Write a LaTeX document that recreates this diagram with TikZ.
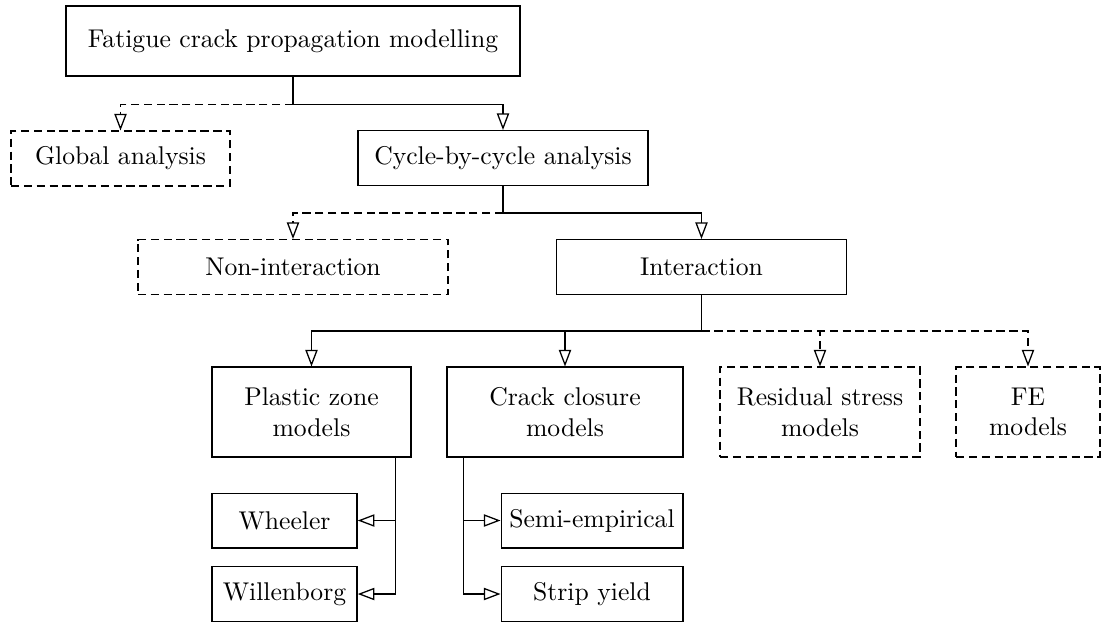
\documentclass[tikz,border=0pt]{standalone}
\usetikzlibrary{arrows.meta,positioning,calc}

\begin{document}
\begin{tikzpicture}[x=0.0137cm, y=-0.0137cm, line width=0.5pt,
		box/.style={draw, align=center, inner sep=0pt, minimum height=0.75cm},
		optbox/.style={box, dash pattern=on 3.2pt off 1.8pt},
		tallbox/.style={minimum height=1.23cm},
		link/.style={-{Triangle[open, length=6.5pt, width=4.8pt]}},
		optlink/.style={link, dash pattern=on 3.2pt off 1.8pt}]
		\useasboundingbox (0,0) rectangle (1105,623);
		% levels
		\node[box, minimum width=6.22cm, minimum height=0.96cm] (fcp) at (293,41) {Fatigue crack propagation modelling};
		\node[optbox, minimum width=3.0cm] (global) at (120.5,158.5) {Global analysis};
		\node[box, minimum width=3.97cm] (cycle) at (503,158) {Cycle-by-cycle analysis};
		\node[optbox, minimum width=4.25cm] (nonint) at (293,267) {Non-interaction};
		\node[box, minimum width=3.97cm] (inter) at (701.5,267) {Interaction};
		\node[box, tallbox, minimum width=2.73cm] (plastic) at (311.5,412) {Plastic zone\\models};
		\node[box, tallbox, minimum width=3.23cm] (closure) at (565,412) {Crack closure\\models};
		\node[optbox, tallbox, minimum width=2.74cm] (residual) at (820,412) {Residual stress\\models};
		\node[optbox, tallbox, minimum width=1.97cm] (fe) at (1028,412) {FE\\models};
		\node[box, minimum width=1.99cm] (wheeler) at (284.5,520.5) {Wheeler};
		\node[box, minimum width=1.99cm] (willen) at (284.5,594) {Willenborg};
		\node[box, minimum width=2.49cm] (semi) at (592,520.5) {Semi-empirical};
		\node[box, minimum width=2.49cm] (strip) at (592,594) {Strip yield};

		% branches
		\coordinate (j1) at ($(fcp.south)+(0,28)$);
		\draw (fcp.south) -- (j1);
		\draw[optlink] (j1) -| (global.north);
		\draw[link] (j1) -| (cycle.north);

		\coordinate (j2) at ($(cycle.south)+(0,27)$);
		\draw (cycle.south) -- (j2);
		\draw[optlink] (j2) -| (nonint.north);
		\draw[link] (j2) -| (inter.north);

		\coordinate (j3) at ($(inter.south)+(0,36)$);
		\draw (inter.south) -- (j3);
		\draw[link] (j3) -| (plastic.north);
		\draw[link] (j3) -| (closure.north);
		\draw[optlink] (j3) -| (residual.north);
		\draw[optlink] (j3) -| (fe.north);

		\coordinate (pz) at ($(plastic.south east)+(-16,0)$);
		\draw[link] (pz) |- (wheeler.east);
		\draw[link] (pz) |- (willen.east);

		\coordinate (cc) at ($(closure.south west)+(17,0)$);
		\draw[link] (cc) |- (semi.west);
		\draw[link] (cc) |- (strip.west);
	\end{tikzpicture}
\end{document}
